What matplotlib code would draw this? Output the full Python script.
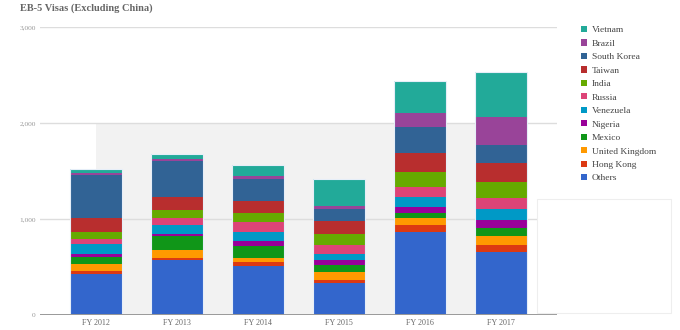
import matplotlib
matplotlib.use("Agg")
import matplotlib.pyplot as plt
from matplotlib.patches import Patch, Rectangle
import numpy as np

# --- Data (bottom segment first) ---
YEARS = ["FY 2012", "FY 2013", "FY 2014", "FY 2015", "FY 2016", "FY 2017"]
COUNTRIES = ["Others", "Hong Kong", "United Kingdom", "Mexico", "Nigeria", "Venezuela",
             "Russia", "India", "Taiwan", "South Korea", "Brazil", "Vietnam"]
others = [431, 577, 515, 331, 867, 655]
hong_kong = [31, 21, 35, 34, 66, 79]
united_kingdom = [66, 80, 45, 84, 77, 84]
mexico = [80, 146, 128, 76, 55, 84]
nigeria = [31, 21, 49, 46, 60, 91]
venezuela = [104, 91, 97, 69, 108, 108]
russia = [46, 73, 97, 91, 104, 119]
india = [76, 87, 97, 108, 153, 170]
taiwan = [146, 133, 122, 140, 202, 191]
south_korea = [452, 372, 233, 125, 264, 195]
brazil = [21, 25, 31, 27, 150, 285]
vietnam = [35, 48, 118, 286, 334, 474]
SERIES = [others, hong_kong, united_kingdom, mexico, nigeria, venezuela,
          russia, india, taiwan, south_korea, brazil, vietnam]
COLORS = ["#3366cc", "#dc3912", "#ff9900", "#109618", "#990099", "#0099c6",
          "#dd4477", "#66aa00", "#b82e2e", "#316395", "#994499", "#22aa99"]
Y_TICKS = [0, 1000, 2000, 3000]

SERIF = ["Liberation Serif", "DejaVu Serif"]

fig = plt.figure(figsize=(6.8, 3.3), dpi=100)
ax = fig.add_axes([40 / 680, 15 / 330, 517 / 680, 288 / 330])

x = np.arange(len(YEARS))
width = 0.64

# light gray band behind the middle bars (hover remnant in the original)
ax.add_patch(Rectangle((x[0], 0), x[-1] - x[0], Y_TICKS[2], facecolor="#f2f2f2",
                       edgecolor="none", zorder=0))

bottom = np.zeros(len(YEARS))
for vals, col in zip(SERIES, COLORS):
    ax.bar(x, vals, width, bottom=bottom, color=col, linewidth=0, zorder=2)
    bottom += np.array(vals)
# thin light outline around each full bar
ax.bar(x, bottom, width, fill=False, edgecolor="#e6eef8", linewidth=0.8, zorder=3)

ax.set_xlim(-0.69, 5.69)
ax.set_ylim(0, 3000)
ax.set_yticks(Y_TICKS)
ax.set_yticklabels([f"{v:,}" for v in Y_TICKS], family=SERIF, fontsize=5.3, color="#999999")
ax.set_xticks(x)
ax.set_xticklabels(YEARS, family=SERIF, fontsize=5.8, color="#666666")
ax.tick_params(length=0, pad=3)
for sp in ax.spines.values():
    sp.set_visible(False)
for v in Y_TICKS[1:]:
    ax.axhline(v, color="#dddddd", linewidth=1, zorder=1)
ax.axhline(0, color="#999999", linewidth=1.4, zorder=4)

# white box on the right (tooltip area in the original)
fig.add_artist(Rectangle((537 / 680, 17 / 330), 134 / 680, 114 / 330,
                         transform=fig.transFigure, facecolor="white",
                         edgecolor="#eeeeee", linewidth=0.8, zorder=5))

fig.text(20 / 680, 1 - 8 / 330, "EB-5 Visas (Excluding China)", family=SERIF,
         fontsize=7.5, fontweight="bold", color="#666666", va="center", ha="left")

handles = [Patch(facecolor=c, edgecolor="none") for c in COLORS][::-1]
leg = fig.legend(handles, COUNTRIES[::-1], loc="upper left",
                 bbox_to_anchor=(577 / 680, 1 - 22 / 330), frameon=False,
                 prop={"family": SERIF, "size": 6.8}, handlelength=0.65, handleheight=0.65,
                 handletextpad=0.55, labelspacing=0.53, borderaxespad=0)
for t in leg.get_texts():
    t.set_color("#444444")

fig.savefig("out.png", dpi=100)
